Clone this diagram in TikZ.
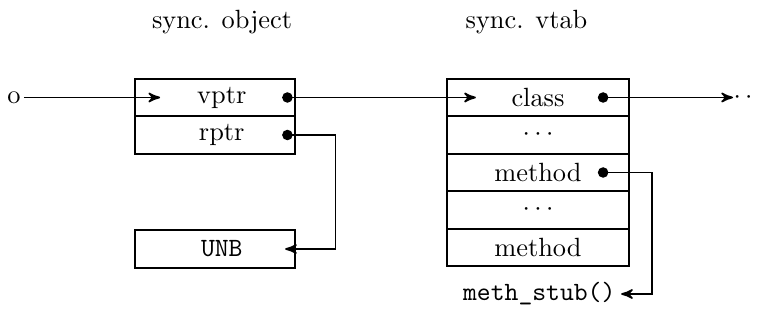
\documentclass[tikz,border=0pt]{standalone}
\usepackage{tikz}
\usetikzlibrary{positioning,arrows,calc}

\begin{document}
\begin{tikzpicture}[
        node distance=0pt,
        title/.style={anchor=center},
        slot/.style={rectangle, draw=black, line width=0.8pt, outer sep=0pt, inner sep=0pt, minimum height=0.5cm},
        objslot/.style={slot, minimum width=2.13cm, execute at begin node={\hspace*{1.8mm}}},
        vtabslot/.style={slot, minimum width=2.43cm},
        dot/.style={circle, fill=black, inner sep=0pt, minimum size=4pt},
        link/.style={->, >=stealth', line width=0.65pt}
    ]
        \useasboundingbox (0,0) rectangle (10.093,-4.333);

        % sync. object
        \node (objtitle) at (2.96,-0.293) [title] {sync. object};
        \node (vptr) at (2.867,-1.3) [objslot] {vptr};
            \node (rptr) [below=of vptr,objslot] {rptr};
        \node (unb) at (2.867,-3.32) [objslot] {\texttt{UNB}};

        \node (vptrdot) at ($(vptr.east)+(-0.1,0)$) [dot] {};
        \node (rptrdot) at ($(rptr.east)+(-0.1,0)$) [dot] {};

        % sync. vtab
        \node (vtabtitle) at (7.02,-0.293) [title] {sync. vtab};
        \node (class) at (7.173,-1.3) [vtabslot] {class};
            \node (vdots1) [below=of class,vtabslot] {$\cdots$};
            \node (meth1) [below=of vdots1,vtabslot] {method};
            \node (vdots2) [below=of meth1,vtabslot] {$\cdots$};
            \node (meth2) [below=of vdots2,vtabslot] {method};

        \node (classdot) at ($(class.east)+(-0.347,0)$) [dot] {};
        \node (meth1dot) at ($(meth1.east)+(-0.347,0)$) [dot] {};

        % others
        \node (o) at (0.187,-1.3) [inner sep=1pt] {o};
        \node (more) at (9.773,-1.3) [anchor=west,inner sep=0pt] {$\cdotp\cdotp$};
        \node (methstub) at (7.19,-3.92) [inner sep=2pt] {\texttt{meth\_stub()}};

        \coordinate (vptrin) at ($(vptr.west)+(0.333,0)$);
        \coordinate (classin) at ($(class.west)+(0.387,0)$);
        \coordinate (unbin) at ($(unb.east)+(-0.13,0)$);

        % Arrows
        \draw[link] (o) -- (vptrin);
        \draw[link] (vptrdot.center) -- (classin);
        \draw[link] (classdot.center) -- (more.west);
        \draw[link] (rptrdot.center) -- ++(0.64,0) |- (unbin);
        \draw[link] (meth1dot.center) -- ++(0.653,0) |- (methstub);
    \end{tikzpicture}
\end{document}
